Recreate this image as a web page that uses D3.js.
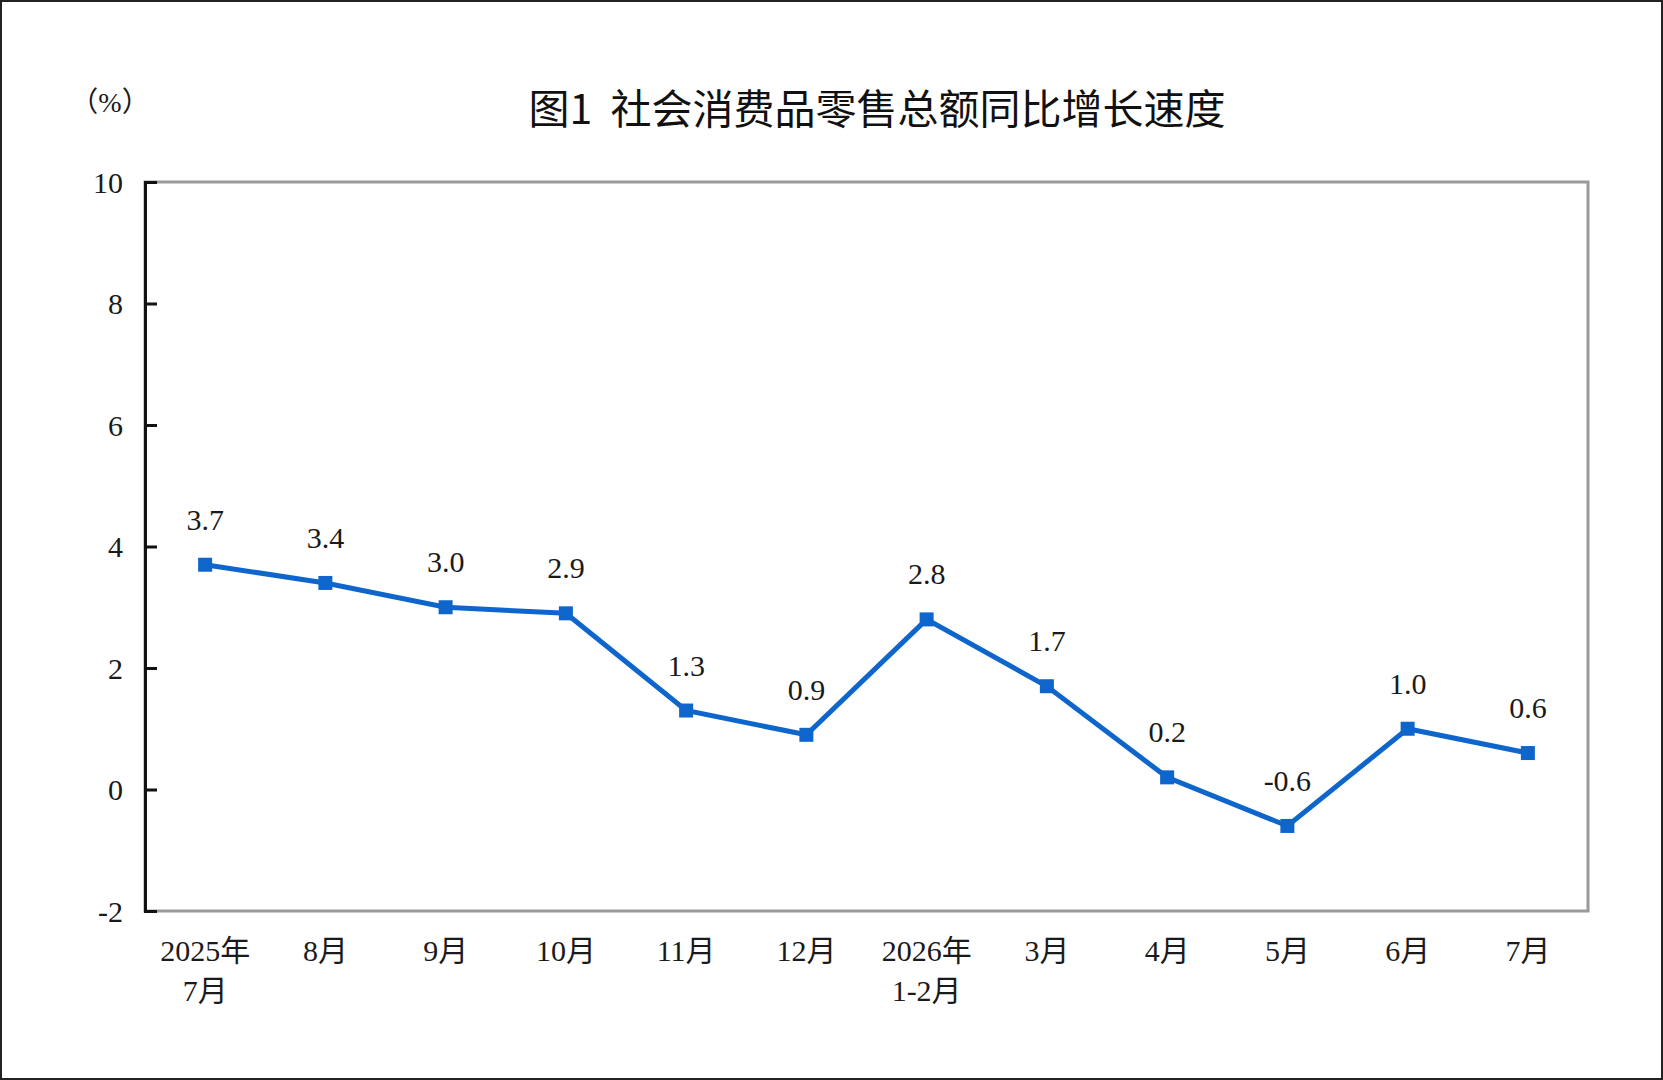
<!DOCTYPE html>
<html lang="zh">
<head>
  <meta charset="UTF-8">
  <title>社会消费品零售总额同比增长速度</title>
  <script src="https://d3js.org/d3.v7.min.js"></script>
  <style>
    body {
      margin: 0;
      background: #fff;
    }
    svg {
      display: block;
    }
    .serif {
      font-family: "Liberation Serif", "Noto Sans CJK SC", serif;
      fill: #1a1a1a;
    }
    .title {
      font-family: "Noto Sans CJK SC", sans-serif;
      font-weight: 400;
      fill: #111;
      white-space: pre;
    }
  </style>
</head>
<body>
  <svg width="1663" height="1080"></svg>
  <script>
    // data
    const months = ["2025年\n7月", "8月", "9月", "10月", "11月", "12月", "2026年\n1-2月", "3月", "4月", "5月", "6月", "7月"];
    const growth = [3.7, 3.4, 3.0, 2.9, 1.3, 0.9, 2.8, 1.7, 0.2, -0.6, 1.0, 0.6];
    const yTicks = [-2, 0, 2, 4, 6, 8, 10];

    const W = 1663, H = 1080;
    const margin = { top: 182, right: 75, bottom: 169, left: 145 };
    const width = W - margin.left - margin.right;
    const height = H - margin.top - margin.bottom;
    const blue = "#0e66cc";

    const svg = d3.select("svg");

    // outer frame
    svg.append("rect")
      .attr("x", 1).attr("y", 1)
      .attr("width", W - 2).attr("height", H - 2)
      .attr("fill", "#fff")
      .attr("stroke", "#222")
      .attr("stroke-width", 2);

    // title and unit
    svg.append("text")
      .attr("class", "title")
      .attr("x", 877)
      .attr("y", 124)
      .attr("text-anchor", "middle")
      .attr("xml:space", "preserve")
      .style("font-size", "41px")
      .text("图1  社会消费品零售总额同比增长速度");

    svg.append("text")
      .attr("class", "serif")
      .attr("x", 110)
      .attr("y", 112)
      .attr("text-anchor", "middle")
      .style("font-size", "28px")
      .text("（%）");

    const g = svg.append("g")
      .attr("transform", `translate(${margin.left},${margin.top})`);

    const x = d3.scaleBand()
      .domain(months)
      .range([0, width])
      .padding(0);

    const y = d3.scaleLinear()
      .domain([-2, 10])
      .range([height, 0]);

    // grey plot frame
    g.append("rect")
      .attr("width", width)
      .attr("height", height)
      .attr("fill", "none")
      .attr("stroke", "#9a9a9a")
      .attr("stroke-width", 3);

    // x axis labels (no ticks)
    const xAxis = g.append("g")
      .attr("transform", `translate(0,${height})`)
      .call(d3.axisBottom(x).tickSize(0).tickPadding(0));
    xAxis.select(".domain").remove();
    xAxis.selectAll("text").each(function(d) {
      const t = d3.select(this)
        .attr("class", "serif")
        .attr("y", 0)
        .attr("dy", null)
        .style("font-size", "30px")
        .text(null);
      d.split("\n").forEach((line, i) => {
        t.append("tspan")
          .attr("x", 0)
          .attr("y", 50 + i * 40)
          .text(line);
      });
    });

    // y axis, ticks pointing inward
    const yAxis = g.append("g")
      .call(d3.axisLeft(y).tickValues(yTicks).tickSize(-12).tickPadding(22).tickFormat(d => String(d)));
    yAxis.select(".domain")
      .attr("stroke", "#111")
      .attr("stroke-width", 3);
    yAxis.selectAll(".tick line")
      .attr("stroke", "#111")
      .attr("stroke-width", 3);
    yAxis.selectAll(".tick text")
      .attr("class", "serif")
      .attr("dy", "0.34em")
      .style("font-size", "30px");

    // series line
    const line = d3.line()
      .x((d, i) => x(months[i]) + x.bandwidth() / 2)
      .y(d => y(d));

    g.append("path")
      .datum(growth)
      .attr("fill", "none")
      .attr("stroke", blue)
      .attr("stroke-width", 5)
      .attr("stroke-linejoin", "miter")
      .attr("d", line);

    g.selectAll(".marker")
      .data(growth)
      .enter().append("rect")
      .attr("class", "marker")
      .attr("x", (d, i) => x(months[i]) + x.bandwidth() / 2 - 7)
      .attr("y", d => y(d) - 7)
      .attr("width", 14)
      .attr("height", 14)
      .attr("fill", blue);

    g.selectAll(".label")
      .data(growth)
      .enter().append("text")
      .attr("class", "serif label")
      .attr("x", (d, i) => x(months[i]) + x.bandwidth() / 2)
      .attr("y", d => y(d) - 35)
      .attr("text-anchor", "middle")
      .style("font-size", "30px")
      .text(d => d.toFixed(1));
  </script>
</body>
</html>
